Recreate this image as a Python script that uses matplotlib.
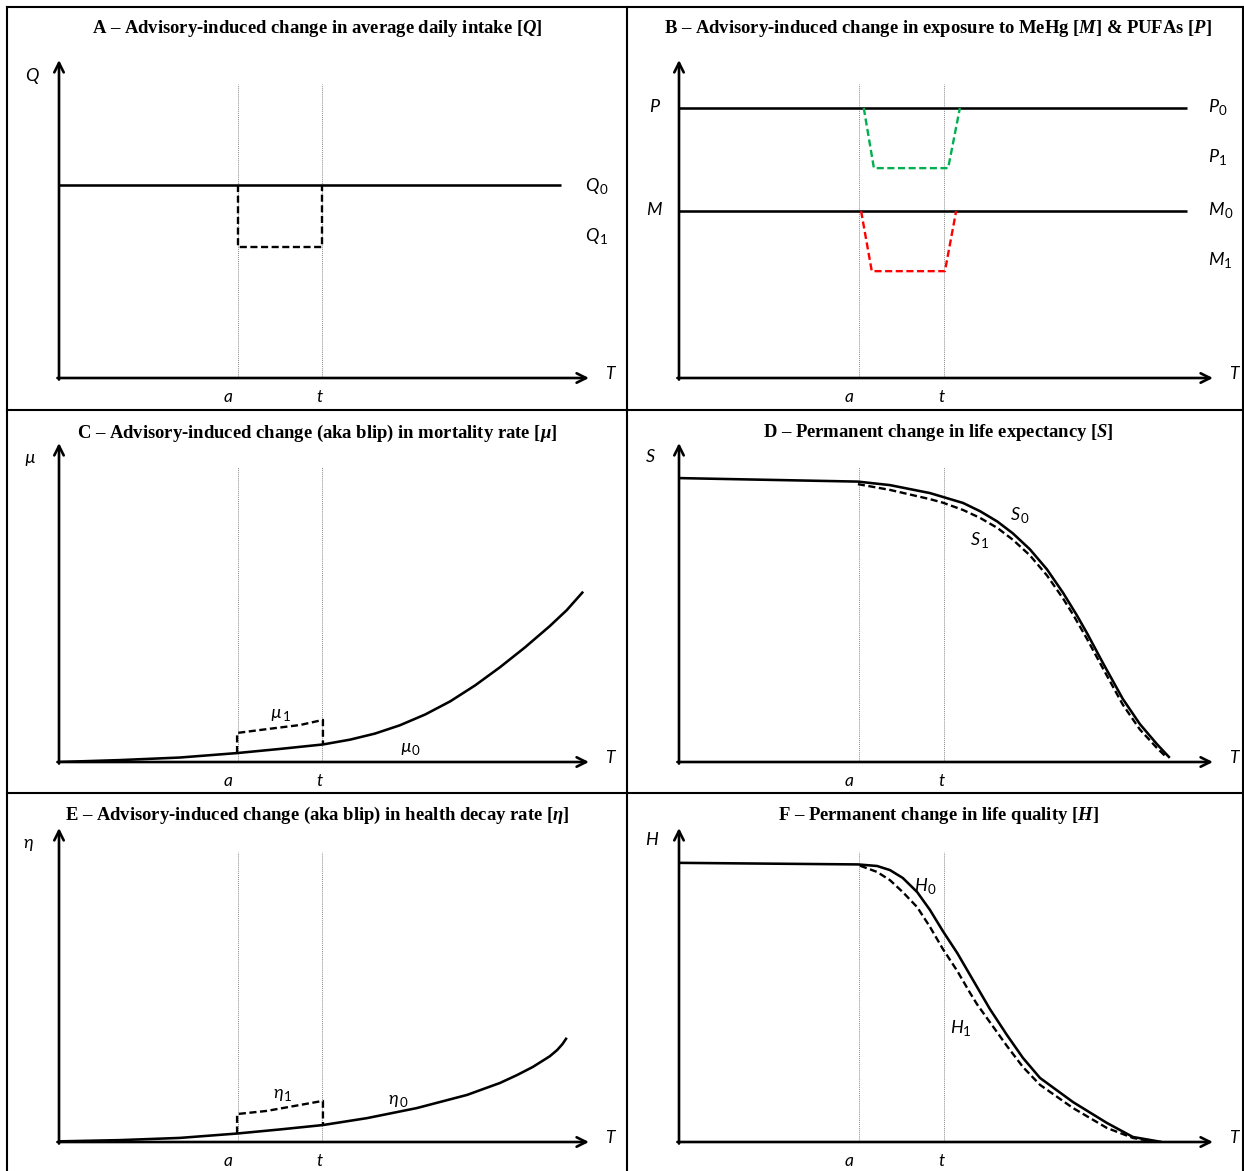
import numpy as np
import matplotlib
matplotlib.use("Agg")
import matplotlib.pyplot as plt

plt.rcParams["mathtext.fontset"] = "custom"
plt.rcParams["mathtext.rm"] = "Liberation Serif:bold"
plt.rcParams["mathtext.it"] = "Liberation Serif:bold:italic"
plt.rcParams["mathtext.bf"] = "Liberation Serif:bold:italic"

W, H = 1244, 1171
LABEL_FONT = ["Lato", "DejaVu Sans"]

# advisory start (a) and end (t) on the time axis, scale 0-100
A_T = 33.7
T_T = 49.6
GUIDE_TOP = 92.5

# A - daily intake
q0_level = 60.7
q1_level = 41.2
q_end = 94.7

# B - MeHg / PUFA exposure
p0_level = 84.9
p1_level = 66.0
m0_level = 52.5
m1_level = 33.6
pm_end = 95.1
p_drop_T = [34.6, 36.5, 50.4, 52.6]
m_drop_T = [34.1, 36.1, 49.8, 51.9]

# C - mortality rate
mu0_T = [0, 11.5, 22.8, 33.6, 41.7, 49.8, 54.9, 59.6, 64.3, 69.1, 73.8, 78.5,
         83.2, 87.9, 92.6, 95.8, 98.9]
mu0 = [0, 0.6, 1.4, 2.8, 4.1, 5.5, 7.0, 8.9, 11.5, 14.9, 19.0, 24.0,
       29.7, 35.9, 42.6, 47.6, 53.4]
mu1_T = [33.6, 39.2, 45.5, 49.8]
mu1 = [9.1, 10.3, 11.6, 13.2]

# D - survival
s0_T = [0, 33.5, 39.5, 47.0, 49.4, 53.2, 56.4, 59.6, 62.5, 65.7, 68.9, 71.9, 74.5,
        76.4, 79.4, 83.1, 86.3, 89.5, 91.9]
s0 = [89.0, 87.9, 86.8, 84.3, 83.1, 81.2, 78.6, 75.4, 71.7, 66.7, 60.4, 53.1, 46.0,
      40.4, 31.0, 19.8, 11.9, 5.6, 1.3]
s1_T = [33.5, 39.5, 47.0, 49.4, 53.2, 56.4, 59.6, 62.5, 65.7, 68.9, 71.9, 73.8,
        76.4, 79.4, 83.1, 86.3, 89.5, 91.4]
s1 = [87.1, 85.3, 82.4, 81.3, 79.0, 76.5, 73.4, 69.7, 64.8, 58.5, 51.3, 46.2,
      38.6, 29.3, 18.0, 10.2, 4.4, 1.3]

# E - health decay rate
eta0_T = [0, 11.5, 22.8, 33.6, 41.7, 49.8, 58.1, 67.5, 77.0, 83.2, 86.4, 89.4,
          92.6, 94.0, 95.0, 95.8]
eta0 = [0.2, 0.6, 1.3, 2.7, 4.0, 5.4, 7.6, 10.8, 15.0, 18.8, 21.3, 23.9,
        27.3, 29.3, 31.2, 33.2]
eta1_T = [33.6, 39.2, 45.5, 49.8]
eta1 = [8.9, 9.9, 11.8, 13.1]

# F - health quality
h0_T = [0, 33.5, 37.1, 39.5, 41.9, 44.6, 47.0, 49.4, 52.1, 54.5, 56.9, 58.2,
        61.4, 64.4, 67.6, 73.8, 80.1, 85.0, 90.4]
h0 = [88.9, 88.4, 87.9, 86.6, 84.1, 79.6, 73.9, 67.2, 60.2, 53.2, 46.2, 42.4,
      34.1, 26.8, 20.4, 12.7, 6.1, 1.6, 0]
h1_T = [33.9, 37.1, 39.5, 41.9, 44.6, 47.0, 49.4, 52.1, 54.5, 55.8, 58.2,
        61.4, 64.4, 67.6, 73.8, 80.1, 85.0, 88.2]
h1 = [88.0, 86.0, 83.4, 79.6, 74.8, 68.5, 61.5, 54.5, 47.5, 43.9, 38.2,
      30.6, 23.9, 18.2, 10.8, 4.5, 1.3, 0.3]

titles = [
    "A – Advisory-induced change in average daily intake [$Q$]",
    "B – Advisory-induced change in exposure to MeHg [$M$] & PUFAs [$P$]",
    "C – Advisory-induced change (aka blip) in mortality rate [$\\mathbf{\\mu}$]",
    "D – Permanent change in life expectancy [$S$]",
    "E – Advisory-induced change (aka blip) in health decay rate [$\\eta$]",
    "F – Permanent change in life quality [$H$]",
]

fig = plt.figure(figsize=(W / 100, H / 100), dpi=100)

# panel borders
bg = fig.add_axes([0, 0, 1, 1])
bg.set_xlim(0, W)
bg.set_ylim(H, 0)
bg.axis("off")
for xs, ys in [([7, 1243], [7, 7]), ([7, 7], [7, 1171]), ([1243, 1243], [7, 1171]),
               ([627, 627], [7, 1171]), ([7, 1243], [410, 410]), ([7, 1243], [793, 793])]:
    bg.plot(xs, ys, color="black", lw=1.5, solid_capstyle="projecting")

title_pos = [(317, 28.5), (938, 28.5), (317, 433.5), (938, 432.5), (317, 815.5), (938, 815.5)]
for (tx, ty), title in zip(title_pos, titles):
    bg.text(tx, ty, title, ha="center", va="center", fontsize=13.4,
            family="Liberation Serif", weight="bold")

cols = [(59, 589), (679, 1213)]
rows = [(378, 60), (762, 443), (1142, 828)]


def make_axes(col, row):
    x0, xt = cols[col]
    y0, yt = rows[row]
    ax = fig.add_axes([x0 / W, (H - y0) / H, (xt - x0) / W, (y0 - yt) / H])
    ax.set_xlim(0, 100)
    ax.set_ylim(0, 100)
    ax.axis("off")
    arrow = dict(arrowstyle="->", lw=1.9, color="black", mutation_scale=17,
                 shrinkA=0, shrinkB=0)
    ax.annotate("", xy=(100, 0), xytext=(-0.3, 0), arrowprops=arrow)
    ax.annotate("", xy=(0, 100), xytext=(0, -0.5), arrowprops=arrow)
    for x in (A_T, T_T):
        ax.plot([x, x], [0, GUIDE_TOP], color="#8a8a8a", lw=0.7,
                linestyle=(0, (1, 1)), zorder=1)
    ax.text(A_T - 1.8, -6, "a", fontsize=12.5, family=LABEL_FONT, style="italic",
            ha="center", va="center")
    ax.text(T_T - 0.5, -6, "t", fontsize=12.5, family=LABEL_FONT, style="italic",
            ha="center", va="center")
    ax.text(103.9, 1.2, "T", fontsize=12.5, family=LABEL_FONT, style="italic",
            ha="center", va="center")
    return ax


def sym(ax, u, v, base, sub=None, size=13):
    txt = ax.text(u, v, base, fontsize=size, family=LABEL_FONT, style="italic",
                  ha="center", va="center", zorder=5)
    if sub is not None:
        ax.annotate(sub, xy=(1, 0.24), xycoords=txt, xytext=(0.6, 0),
                    textcoords="offset points", fontsize=size * 0.74,
                    family=LABEL_FONT, ha="left", va="center", zorder=6)


solid = dict(color="black", lw=1.85, solid_capstyle="butt", solid_joinstyle="round")
dash = dict(color="black", lw=1.7, dashes=(3, 1.5))

# A
ax = make_axes(0, 0)
ax.plot([0, q_end], [q0_level, q0_level], **solid)
ax.plot([A_T, A_T, T_T, T_T], [q0_level, q1_level, q1_level, q0_level], **dash)
sym(ax, -5.1, 95, "Q")
sym(ax, 100.6, 60.4, "Q", "0")
sym(ax, 100.6, 44.6, "Q", "1")

# B
ax = make_axes(1, 0)
ax.plot([0, pm_end], [p0_level, p0_level], **solid)
ax.plot([0, pm_end], [m0_level, m0_level], **solid)
ax.plot(p_drop_T, [p0_level, p1_level, p1_level, p0_level], color="#00b050", lw=1.7,
        dashes=(3, 1.5))
ax.plot(m_drop_T, [m0_level, m1_level, m1_level, m0_level], color="#ff0000", lw=1.7,
        dashes=(3, 1.5))
sym(ax, -4.7, 85.2, "P")
sym(ax, -4.7, 52.8, "M")
sym(ax, 100.0, 85.2, "P", "0")
sym(ax, 100.0, 69.5, "P", "1")
sym(ax, 100.5, 52.8, "M", "0")
sym(ax, 100.5, 37.1, "M", "1")

# C
ax = make_axes(0, 1)
ax.plot(mu0_T, mu0, **solid)
base_a = np.interp(mu1_T[0], mu0_T, mu0)
base_t = np.interp(mu1_T[-1], mu0_T, mu0)
ax.plot([mu1_T[0]] + mu1_T + [mu1_T[-1]], [base_a] + mu1 + [base_t], **dash)
sym(ax, -5.5, 95.3, "\u00b5")
sym(ax, 41.0, 15.4, "\u00b5", "1")
sym(ax, 65.4, 4.7, "\u00b5", "0")

# D
ax = make_axes(1, 1)
ax.plot(s0_T, s0, **solid)
ax.plot(s1_T, s1, **dash)
sym(ax, -5.4, 95.6, "S")
sym(ax, 63.0, 77.4, "S", "0")
sym(ax, 55.5, 69.6, "S", "1")

# E
ax = make_axes(0, 2)
ax.plot(eta0_T, eta0, **solid)
base_a = np.interp(eta1_T[0], eta0_T, eta0)
base_t = np.interp(eta1_T[-1], eta0_T, eta0)
ax.plot([eta1_T[0]] + eta1_T + [eta1_T[-1]], [base_a] + eta1 + [base_t], **dash)
sym(ax, -5.8, 95.2, "\u03b7")
sym(ax, 41.4, 15.5, "\u03b7", "1")
sym(ax, 63.1, 13.6, "\u03b7", "0")

# F
ax = make_axes(1, 2)
ax.plot(h0_T, h0, **solid)
ax.plot(h1_T, h1, **dash)
sym(ax, -5.1, 96.2, "H")
sym(ax, 45.2, 81.5, "H", "0")
sym(ax, 51.9, 36.3, "H", "1")

fig.savefig("out.png", dpi=100)
